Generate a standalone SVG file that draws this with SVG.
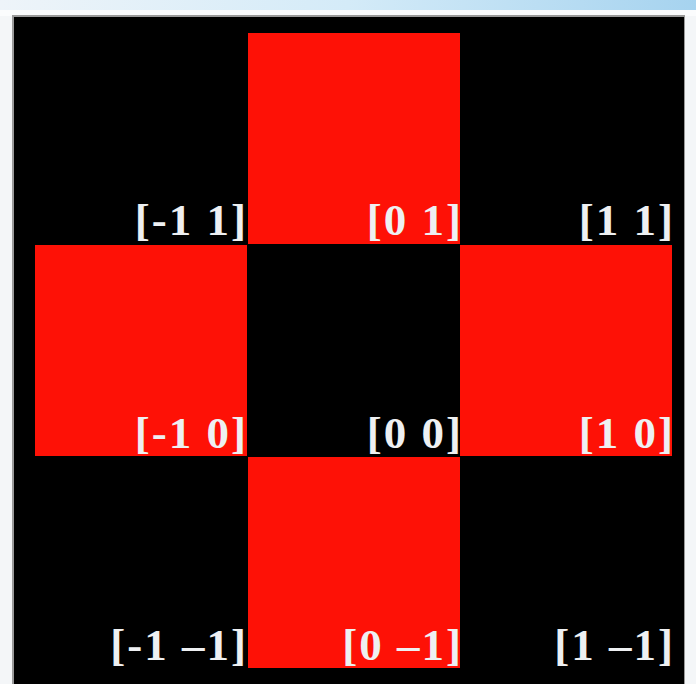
<svg xmlns="http://www.w3.org/2000/svg" width="696" height="684" viewBox="0 0 696 684">
<defs>
<linearGradient id="sky" x1="0" y1="0" x2="1" y2="0">
<stop offset="0" stop-color="#eef4f9"/>
<stop offset="0.5" stop-color="#d4ebf8"/>
<stop offset="1" stop-color="#a6d3ef"/>
</linearGradient>
</defs>
<style>
.red{fill:#fe1106}
.lbl{font-family:"Liberation Serif","DejaVu Serif",serif;font-size:45px;font-weight:bold;letter-spacing:2px;fill:#eef0f2;text-anchor:end}
</style>
<rect x="0" y="0" width="696" height="684" fill="#f4f6f8"/>
<rect x="0" y="0" width="696" height="10" fill="url(#sky)"/>
<rect x="0" y="10" width="696" height="6" fill="#fbfcfd"/>
<rect x="12" y="15" width="673" height="669" fill="#9a9a9a"/>
<rect x="14" y="17" width="670" height="667" fill="#000"/>
<g id="cell-m1-p1"><text class="lbl" x="248" y="235">[-1 1]</text></g>
<g id="cell-0-p1"><rect class="red" x="248" y="33" width="212" height="211"/><text class="lbl" x="463" y="235">[0 1]</text></g>
<g id="cell-p1-p1"><text class="lbl" x="675" y="235">[1 1]</text></g>
<g id="cell-m1-0"><rect class="red" x="35" y="245" width="212" height="211"/><text class="lbl" x="248" y="448">[-1 0]</text></g>
<g id="cell-0-0"><text class="lbl" x="463" y="448">[0 0]</text></g>
<g id="cell-p1-0"><rect class="red" x="460" y="245" width="212" height="211"/><text class="lbl" x="675" y="448">[1 0]</text></g>
<g id="cell-m1-m1"><text class="lbl" x="248" y="660">[-1 –1]</text></g>
<g id="cell-0-m1"><rect class="red" x="248" y="457" width="212" height="211"/><text class="lbl" x="463" y="660">[0 –1]</text></g>
<g id="cell-p1-m1"><text class="lbl" x="675" y="660">[1 –1]</text></g>
<g id="connectors"/>
</svg>
